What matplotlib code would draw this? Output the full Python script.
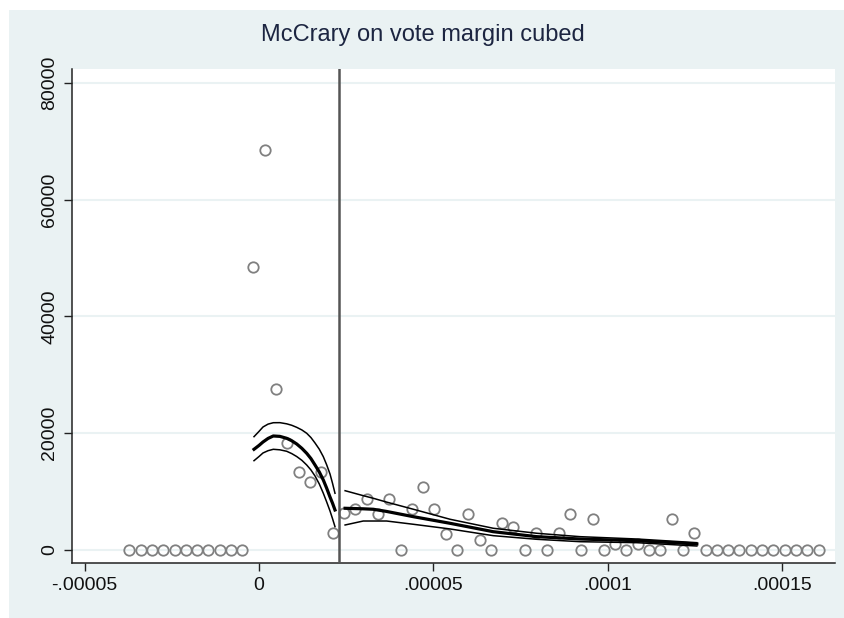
import matplotlib
matplotlib.use('Agg')
import numpy as np
import matplotlib.pyplot as plt
from matplotlib.patches import Rectangle

plt.rcParams['font.family'] = ['Liberation Sans', 'DejaVu Sans']

# bin midpoints (units of 1e-6) and binned density, left of cutoff
bins_left = [-37.2, -33.9, -30.7, -27.5, -24.2, -21.0, -17.8, -14.5, -11.3, -8.0,
             -4.8, -1.6, 1.7, 4.9, 8.1, 11.4, 14.6, 17.8, 21.1]
dens_left = [0, 0, 0, 0, 0, 0, 0, 0, 0, 0,
             0, 48400, 68400, 27500, 18400, 13400, 11700, 13400, 2900]

# right of cutoff
bins_right = [24.4, 27.6, 30.9, 34.1, 37.4, 40.6, 43.8, 47.1, 50.3, 53.6,
              56.8, 60.0, 63.3, 66.5, 69.8, 73.0, 76.2, 79.5, 82.7, 86.0,
              89.2, 92.4, 95.7, 98.9, 102.2, 105.4, 108.6, 111.9, 115.1, 118.4,
              121.6, 124.8, 128.1, 131.3, 134.6, 137.8, 141.0, 144.3, 147.5, 150.8,
              154.0, 157.2, 160.5]
dens_right = [6300, 7100, 8800, 6200, 8800, 0, 7100, 10800, 7100, 2800,
              0, 6200, 1700, 0, 4600, 3900, 0, 2950, 0, 2950,
              6200, 0, 5300, 0, 1000, 0, 1100, 0, 0, 5300,
              0, 2900, 0, 0, 0, 0, 0, 0, 0, 0,
              0, 0, 0]

# fitted density and 95% band, left side
fit_x_left = [-1.43, 0.0, 1.15, 2.6, 4.10, 6.0, 7.95, 9.4, 10.82, 12.3, 13.69,
              14.9, 16.07, 17.3, 18.45, 19.4, 20.37, 21.1, 21.80]
fit_left = [17240, 17900, 18490, 19100, 19520, 19450, 19120, 18700, 18150,
            17400, 16550, 15650, 14550, 13350, 11980, 10600, 9070, 8000, 6850]
hi_left = [19400, 20300, 21060, 21550, 21790, 21800, 21600, 21350, 21000,
           20550, 19980, 19250, 18320, 17250, 15970, 14600, 13010, 11400, 9710]
lo_left = [15290, 16000, 16610, 17000, 17240, 17150, 16900, 16500, 16000,
           15350, 14550, 13700, 12670, 11300, 9710, 8250, 6680, 5350, 3990]

# right side
fit_x_right = [24.7, 29.9, 32.8, 36.6, 44.3, 54.8, 67.2, 79.7, 92.1, 108.4, 125.6]
fit_right = [7140, 7050, 6970, 6600, 5700, 4570, 3130, 2280, 1880, 1590, 1030]
hi_right = [10150, 9300, 8850, 8200, 6970, 5260, 3720, 2860, 2280, 1880, 1250]
lo_right = [4280, 4960, 4960, 4960, 4400, 3600, 2450, 1830, 1420, 1250, 680]

cutoff = 23.0
title = 'McCrary on vote margin cubed'
xticks = [-5e-5, 0, 5e-5, 1e-4, 1.5e-4]
xtick_labels = ['-.00005', '0', '.00005', '.0001', '.00015']
yticks = [0, 20000, 40000, 60000, 80000]
ytick_labels = ['0', '20000', '40000', '60000', '80000']

bg = '#EAF2F3'
fig = plt.figure(figsize=(8.45, 6.18), dpi=100, facecolor='white')
fig.patches.append(Rectangle((9 / 845, 0), 1 - 9 / 845, 1 - 10 / 618,
                             transform=fig.transFigure, facecolor=bg,
                             edgecolor='none', zorder=-10))
ax = fig.add_axes([72 / 845, (618 - 563.3) / 618, 763 / 845, 494 / 618])
ax.set_facecolor('white')

sc = 1e-6
ax.plot(np.array(bins_left) * sc, dens_left, 'o', mfc='none', mec='#808080',
        ms=7.5, mew=1.3, zorder=3)
ax.plot(np.array(bins_right) * sc, dens_right, 'o', mfc='none', mec='#808080',
        ms=7.5, mew=1.3, zorder=3)

for xs, f, h, l in [(fit_x_left, fit_left, hi_left, lo_left),
                    (fit_x_right, fit_right, hi_right, lo_right)]:
    xs = np.array(xs) * sc
    ax.plot(xs, f, color='black', lw=2.3, zorder=4, solid_joinstyle='round')
    ax.plot(xs, h, color='black', lw=1.1, zorder=4, solid_joinstyle='round')
    ax.plot(xs, l, color='black', lw=1.1, zorder=4, solid_joinstyle='round')

ax.axvline(cutoff * sc, color='#555555', lw=1.8, zorder=5)

ax.set_xlim(-5.364e-5, 1.6523e-4)
ax.set_ylim(-2280, 82300)
ax.set_xticks(xticks)
ax.set_xticklabels(xtick_labels)
ax.set_yticks(yticks)
ax.set_yticklabels(ytick_labels, rotation=90, va='center')
ax.tick_params(axis='both', labelsize=14, length=6, width=1, color='#222222',
               labelcolor='#111111', direction='out', pad=4)
ax.grid(axis='y', color=bg, lw=1.5, zorder=0)
ax.set_axisbelow(True)
for side in ['top', 'right']:
    ax.spines[side].set_visible(False)
for side in ['left', 'bottom']:
    ax.spines[side].set_color('#222222')
    ax.spines[side].set_linewidth(1.1)

fig.text(0.5, 1 - 35 / 618, title, ha='center', va='center', fontsize=17,
         color='#1c2541')

fig.savefig('out.png', dpi=100, facecolor='white')
